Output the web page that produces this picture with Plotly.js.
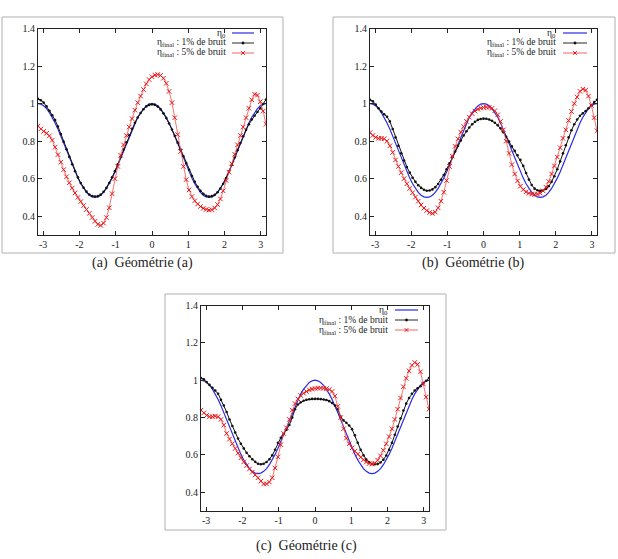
<!DOCTYPE html>
<html>
<head>
<meta charset="utf-8">
<script src="https://cdn.plot.ly/plotly-3.0.1.min.js"></script>
<style>html,body{margin:0;padding:0;background:#fff;}#chart{width:618px;height:559px;}</style>
</head>
<body>
<div id="chart"></div>
<script>
// angle grid (x), shared by all panels
const X = [-3.142,-3.063,-2.985,-2.906,-2.827,-2.749,-2.670,-2.592,-2.513,-2.435,-2.356,-2.278,-2.199,-2.121,-2.042,-1.963,-1.885,-1.806,-1.728,-1.649,-1.571,-1.492,-1.414,-1.335,-1.257,-1.178,-1.100,-1.021,-0.942,-0.864,-0.785,-0.707,-0.628,-0.550,-0.471,-0.393,-0.314,-0.236,-0.157,-0.079,0,0.079,0.157,0.236,0.314,0.393,0.471,0.550,0.628,0.707,0.785,0.864,0.942,1.021,1.100,1.178,1.257,1.335,1.414,1.492,1.571,1.649,1.728,1.806,1.885,1.963,2.042,2.121,2.199,2.278,2.356,2.435,2.513,2.592,2.670,2.749,2.827,2.906,2.985,3.063,3.142];

// eta_0 (blue reference curve)
const ETA0 = [1.000,0.997,0.988,0.973,0.952,0.927,0.897,0.864,0.827,0.789,0.750,0.711,0.673,0.636,0.603,0.573,0.548,0.527,0.512,0.503,0.500,0.503,0.512,0.527,0.548,0.573,0.603,0.636,0.673,0.711,0.750,0.789,0.827,0.864,0.897,0.927,0.952,0.973,0.988,0.997,1.000,
0.997,0.988,0.973,0.952,0.927,0.897,0.864,0.827,0.789,0.750,0.711,0.673,0.636,0.603,0.573,0.548,0.527,0.512,0.503,0.500,0.503,0.512,0.527,0.548,0.573,0.603,0.636,0.673,0.711,0.750,0.789,0.827,0.864,0.897,0.927,0.952,0.973,0.988,0.997,1.000];

// Panel (a)
const BLACK_A = [1.025,1.018,1.005,0.985,0.962,0.938,0.912,0.878,0.838,0.797,0.757,0.716,0.677,0.640,0.607,0.577,0.552,0.531,0.516,0.508,0.505,0.507,0.515,0.530,0.551,0.577,0.607,0.640,0.677,0.716,0.755,0.794,0.831,0.866,0.898,0.926,0.950,0.970,0.985,0.993,0.996,
0.993,0.984,0.969,0.948,0.923,0.894,0.862,0.828,0.792,0.756,0.719,0.683,0.647,0.614,0.584,0.557,0.535,0.519,0.509,0.505,0.507,0.514,0.528,0.548,0.573,0.603,0.637,0.674,0.713,0.752,0.790,0.826,0.860,0.890,0.915,0.935,0.955,0.975,0.998,1.022];
const RED_A = [0.880,0.865,0.852,0.842,0.828,0.805,0.768,0.728,0.688,0.648,0.610,0.578,0.550,0.524,0.500,0.478,0.457,0.436,0.415,0.393,0.373,0.357,0.351,0.363,0.393,0.445,0.520,0.600,0.665,0.725,0.780,0.830,0.875,0.920,0.965,1.005,1.040,1.075,1.105,1.128,1.143,
1.152,1.155,1.150,1.135,1.108,1.065,1.005,0.925,0.835,0.745,0.665,0.595,0.540,0.505,0.482,0.465,0.452,0.442,0.436,0.433,0.435,0.444,0.462,0.492,0.535,0.590,0.635,0.680,0.730,0.780,0.830,0.875,0.925,0.975,1.020,1.050,1.045,1.010,0.960,0.890];

// Panel (b)
const BLACK_B = [1.020,1.012,0.995,0.975,0.958,0.943,0.930,0.905,0.865,0.820,0.775,0.735,0.697,0.662,0.632,0.605,0.583,0.565,0.551,0.541,0.536,0.537,0.543,0.555,0.572,0.594,0.620,0.650,0.682,0.714,0.745,0.775,0.803,0.830,0.853,0.873,0.890,0.903,0.913,0.918,0.920,
0.919,0.915,0.908,0.898,0.885,0.868,0.847,0.823,0.798,0.772,0.748,0.725,0.700,0.668,0.630,0.595,0.566,0.547,0.538,0.535,0.537,0.545,0.560,0.583,0.613,0.650,0.692,0.735,0.778,0.820,0.858,0.890,0.915,0.935,0.948,0.960,0.975,0.992,1.008,1.020];
const RED_B = [0.845,0.830,0.820,0.815,0.815,0.813,0.800,0.775,0.740,0.700,0.665,0.632,0.600,0.573,0.548,0.525,0.502,0.480,0.460,0.443,0.430,0.420,0.415,0.422,0.445,0.480,0.528,0.590,0.665,0.720,0.772,0.812,0.848,0.878,0.905,0.928,0.946,0.960,0.970,0.976,0.979,
0.981,0.980,0.975,0.962,0.940,0.905,0.860,0.800,0.735,0.675,0.625,0.588,0.560,0.542,0.530,0.522,0.518,0.516,0.518,0.523,0.535,0.555,0.585,0.625,0.668,0.715,0.765,0.815,0.860,0.910,0.958,1.000,1.035,1.065,1.077,1.072,1.040,0.990,0.925,0.855];

// Panel (c)
const BLACK_C = [1.012,1.005,0.990,0.975,0.960,0.945,0.928,0.895,0.865,0.830,0.790,0.755,0.720,0.688,0.660,0.635,0.612,0.593,0.577,0.563,0.553,0.550,0.553,0.562,0.577,0.598,0.628,0.665,0.692,0.712,0.735,0.760,0.800,0.845,0.870,0.882,0.890,0.895,0.898,0.900,0.900,
0.900,0.899,0.897,0.894,0.888,0.878,0.865,0.845,0.805,0.785,0.772,0.758,0.738,0.705,0.665,0.628,0.598,0.575,0.561,0.553,0.550,0.552,0.560,0.575,0.597,0.627,0.665,0.708,0.752,0.795,0.838,0.875,0.905,0.928,0.945,0.957,0.968,0.982,0.997,1.012];
const RED_C = [0.840,0.825,0.812,0.805,0.805,0.808,0.805,0.790,0.760,0.715,0.685,0.660,0.635,0.610,0.585,0.563,0.543,0.525,0.508,0.493,0.478,0.460,0.445,0.445,0.455,0.478,0.530,0.590,0.655,0.715,0.745,0.790,0.840,0.875,0.900,0.918,0.930,0.940,0.948,0.953,0.956,
0.958,0.958,0.957,0.955,0.950,0.940,0.915,0.860,0.800,0.740,0.690,0.660,0.638,0.620,0.605,0.588,0.574,0.562,0.554,0.551,0.556,0.572,0.595,0.625,0.660,0.698,0.740,0.790,0.845,0.905,0.965,1.010,1.050,1.080,1.095,1.085,1.045,0.980,0.910,0.845];

const X_TICKS = [-3,-2,-1,0,1,2,3];
const Y_TICKS = [0.4,0.6,0.8,1,1.2,1.4];
const LEGEND_TEXT = ['η<sub>0</sub>', 'η<sub>final</sub> : 1% de bruit', 'η<sub>final</sub> : 5% de bruit'];
const CAPTIONS = ['(a)\u00a0 Géométrie (a)', '(b)\u00a0 Géométrie (b)', '(c)\u00a0 Géométrie (c)'];

const W = 618, H = 559;
const px = v => v / W;
const py = v => 1 - v / H;

const BLUE = '#2a2ae6', RED = '#f01414', BLACK = '#111111';
const SERIF = 'Liberation Serif';

// panel geometry in pixels: plot area [l, r, t, b], outer frame [l, r, t, b], caption center, legend
const PANELS = [
  {black: BLACK_A, red: RED_A, plot: [38, 266, 28.5, 235], frame: [2, 283, 17, 253], cap: [142, 263], leg: [227, 232, 254, 33]},
  {black: BLACK_B, red: RED_B, plot: [370, 597, 28.5, 235], frame: [333, 615, 17, 253], cap: [473, 263], leg: [557, 563, 587, 33]},
  {black: BLACK_C, red: RED_C, plot: [201, 429, 305.5, 511], frame: [165, 446, 294, 530], cap: [306, 546], leg: [389, 395, 418, 310]}
];

const traces = [];
const layout = {
  width: W, height: H,
  margin: {l: 0, r: 0, t: 0, b: 0},
  paper_bgcolor: '#fff', plot_bgcolor: '#fff',
  showlegend: false,
  font: {family: SERIF, size: 9.5, color: '#222'},
  shapes: [], annotations: []
};

PANELS.forEach((p, k) => {
  const sfx = k === 0 ? '' : String(k + 1);
  const xa = 'x' + sfx, ya = 'y' + sfx;
  traces.push({x: X, y: ETA0, xaxis: xa, yaxis: ya, mode: 'lines', line: {color: BLUE, width: 1.2}, hoverinfo: 'skip'});
  traces.push({x: X, y: p.black, xaxis: xa, yaxis: ya, mode: 'lines+markers',
    line: {color: BLACK, width: 1}, marker: {symbol: 'circle', size: 2.6, color: BLACK}, hoverinfo: 'skip'});
  traces.push({x: X, y: p.red, xaxis: xa, yaxis: ya, mode: 'lines+markers',
    line: {color: '#f05050', width: 0.8}, marker: {symbol: 'x-thin-open', size: 4.5, color: RED, line: {color: RED, width: 1}}, hoverinfo: 'skip'});

  const axCommon = {showgrid: false, zeroline: false, showline: true, linecolor: '#222', linewidth: 1,
    mirror: 'allticks', ticks: 'inside', ticklen: 4, tickwidth: 1, tickcolor: '#222',
    tickfont: {family: SERIF, size: 10, color: '#222'}, fixedrange: true};
  layout['xaxis' + sfx] = Object.assign({}, axCommon, {
    domain: [px(p.plot[0]), px(p.plot[1])], anchor: ya, range: [-Math.PI, Math.PI],
    tickmode: 'array', tickvals: X_TICKS, ticktext: X_TICKS.map(String)});
  layout['yaxis' + sfx] = Object.assign({}, axCommon, {
    domain: [py(p.plot[3]), py(p.plot[2])], anchor: xa, range: [0.3, 1.4],
    tickmode: 'array', tickvals: Y_TICKS, ticktext: Y_TICKS.map(String)});

  // outer figure frame
  layout.shapes.push({type: 'rect', xref: 'paper', yref: 'paper',
    x0: px(p.frame[0]), x1: px(p.frame[1]), y0: py(p.frame[3]), y1: py(p.frame[2]),
    line: {color: '#b0b0b0', width: 1}});

  // caption
  layout.annotations.push({xref: 'paper', yref: 'paper', x: px(p.cap[0]), y: py(p.cap[1]),
    xanchor: 'center', yanchor: 'middle', showarrow: false, text: CAPTIONS[k],
    font: {family: SERIF, size: 14, color: '#222'}});

  // legend (text right-aligned, sample on the right)
  const [tr, s0, s1, top] = p.leg;
  const colors = [BLUE, BLACK, '#f05050'];
  const step = 10;
  for (let i = 0; i < 3; i++) {
    const yy = top + i * step;
    layout.annotations.push({xref: 'paper', yref: 'paper', x: px(tr), y: py(yy),
      xanchor: 'right', yanchor: 'middle', showarrow: false, text: LEGEND_TEXT[i],
      borderpad: 0, font: {family: SERIF, size: 9.5, color: '#222'}});
    layout.shapes.push({type: 'line', xref: 'paper', yref: 'paper',
      x0: px(s0), x1: px(s1), y0: py(yy), y1: py(yy), line: {color: colors[i], width: i === 0 ? 1.2 : 0.9}});
  }
  const mx = (s0 + s1) / 2;
  const yb = top + step, yr = top + 2 * step;
  layout.shapes.push({type: 'circle', xref: 'paper', yref: 'paper',
    x0: px(mx - 1.2), x1: px(mx + 1.2), y0: py(yb + 1.2), y1: py(yb - 1.2),
    fillcolor: BLACK, line: {color: BLACK, width: 0.5}});
  layout.shapes.push({type: 'line', xref: 'paper', yref: 'paper',
    x0: px(mx - 1.8), x1: px(mx + 1.8), y0: py(yr - 1.8), y1: py(yr + 1.8), line: {color: RED, width: 1}});
  layout.shapes.push({type: 'line', xref: 'paper', yref: 'paper',
    x0: px(mx - 1.8), x1: px(mx + 1.8), y0: py(yr + 1.8), y1: py(yr - 1.8), line: {color: RED, width: 1}});
});

Plotly.newPlot('chart', traces, layout, {displayModeBar: false, staticPlot: true});
</script>
</body>
</html>
